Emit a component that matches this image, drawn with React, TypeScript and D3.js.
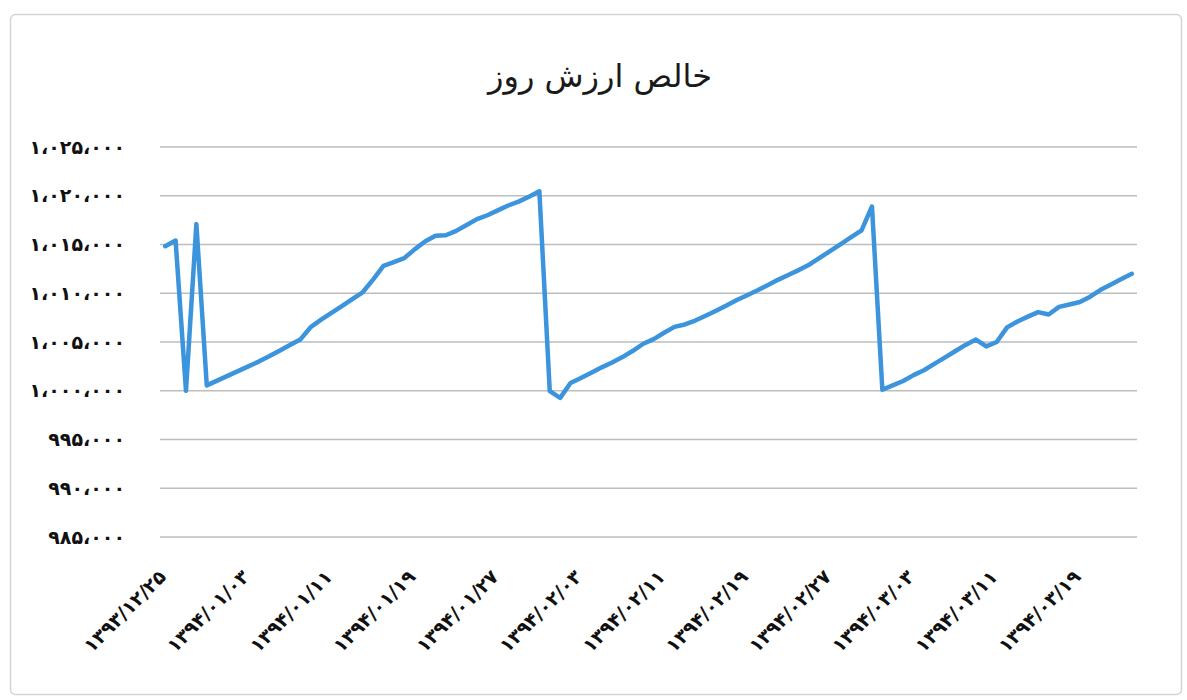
import React, { useEffect, useRef } from 'react';
import * as d3 from 'd3';

// chart text
const chartTitle = 'خالص ارزش روز';

// one value per day
const navValues = [
  1014830, 1015400, 1000000, 1017090, 1000550, 1001040, 1001530, 1002010, 1002500, 1002990,
  1003530, 1004110, 1004690, 1005260, 1006530, 1007290, 1007990, 1008690, 1009400, 1010100,
  1011400, 1012800, 1013200, 1013600, 1014500, 1015300, 1015900, 1015950, 1016400, 1017000,
  1017600, 1018000, 1018500, 1019000, 1019400, 1019900, 1020450, 999960, 999270, 1000790,
  1001300, 1001850, 1002400, 1002900, 1003450, 1004100, 1004820, 1005300, 1005950, 1006550,
  1006800, 1007200, 1007700, 1008200, 1008750, 1009300, 1009800, 1010300, 1010850, 1011400,
  1011900, 1012400, 1012950, 1013650, 1014350, 1015050, 1015750, 1016450, 1018900, 1000100,
  1000550, 1001000, 1001600, 1002100, 1002750, 1003400, 1004050, 1004700, 1005250, 1004550,
  1005000, 1006500, 1007100, 1007600, 1008070, 1007820, 1008600, 1008850, 1009100, 1009650,
  1010350, 1010900, 1011450, 1012000
];

// labels shown every 8th day
const xTickLabels = [
  '۱۳۹۳/۱۲/۲۵', '۱۳۹۴/۰۱/۰۳', '۱۳۹۴/۰۱/۱۱', '۱۳۹۴/۰۱/۱۹', '۱۳۹۴/۰۱/۲۷', '۱۳۹۴/۰۲/۰۳',
  '۱۳۹۴/۰۲/۱۱', '۱۳۹۴/۰۲/۱۹', '۱۳۹۴/۰۲/۲۷', '۱۳۹۴/۰۳/۰۳', '۱۳۹۴/۰۳/۱۱', '۱۳۹۴/۰۳/۱۹'
];
const labelStep = 8;

const yTicks = [985000, 990000, 995000, 1000000, 1005000, 1010000, 1015000, 1020000, 1025000];

const persianDigits = '۰۱۲۳۴۵۶۷۸۹';
const toPersian = (s: string) =>
  s.replace(/[0-9]/g, (d) => persianDigits[+d]).replace(/,/g, '،');

const W = 1187;
const H = 700;

export default function App() {
  const ref = useRef<SVGSVGElement>(null);

  useEffect(() => {
    const svg = d3.select(ref.current);
    svg.selectAll('*').remove();

    const left = 160, right = 1137, top = 147, bottom = 537;

    const x = d3.scaleBand<number>()
      .domain(navValues.map((d, i) => i))
      .range([left, right]);
    const cx = (i: number) => (x(i) as number) + x.bandwidth() / 2;

    const y = d3.scaleLinear()
      .domain([985000, 1025000])
      .range([bottom, top]);

    svg.append('rect')
      .attr('x', 0).attr('y', 0).attr('width', W).attr('height', H)
      .attr('fill', '#fff');

    svg.append('rect')
      .attr('x', 10.5).attr('y', 14.5)
      .attr('width', 1171).attr('height', 680)
      .attr('rx', 5)
      .attr('fill', '#fff')
      .attr('stroke', '#d4d4d4')
      .attr('stroke-width', 1.5);

    svg.append('text')
      .attr('x', 600).attr('y', 87)
      .attr('text-anchor', 'middle')
      .attr('font-family', 'DejaVu Sans')
      .attr('font-size', 32)
      .attr('fill', '#1a1a1a')
      .text(chartTitle);

    const fmt = d3.format(',');

    // grid lines
    svg.append('g')
      .selectAll('line')
      .data(yTicks)
      .enter()
      .append('line')
        .attr('x1', left).attr('x2', right)
        .attr('y1', (d) => y(d)).attr('y2', (d) => y(d))
        .attr('stroke', '#bdbdbd')
        .attr('stroke-width', 1.5);

    // y labels
    svg.append('g')
      .selectAll('text')
      .data(yTicks)
      .enter()
      .append('text')
        .attr('x', 125)
        .attr('y', (d) => y(d))
        .attr('dy', '0.35em')
        .attr('text-anchor', 'end')
        .attr('font-family', 'DejaVu Sans')
        .attr('font-weight', 'bold')
        .attr('font-size', 19)
        .attr('fill', '#111')
        .text((d) => toPersian(fmt(d)));

    // x labels
    svg.append('g')
      .selectAll('text')
      .data(xTickLabels)
      .enter()
      .append('text')
        .attr('transform', (d, k) => `translate(${cx(k * labelStep) + 2}, 578) rotate(-45)`)
        .attr('text-anchor', 'end')
        .attr('font-family', 'DejaVu Sans')
        .attr('font-weight', 'bold')
        .attr('font-size', 19)
        .attr('fill', '#111')
        .text((d) => d);

    const line = d3.line<number>()
      .x((d, i) => cx(i))
      .y((d) => y(d));

    svg.append('path')
      .datum(navValues)
      .attr('d', line)
      .attr('fill', 'none')
      .attr('stroke', '#3b94dc')
      .attr('stroke-width', 4.5)
      .attr('stroke-linejoin', 'round')
      .attr('stroke-linecap', 'round');
  }, []);

  return (
    <svg ref={ref} width={W} height={H}
      style={{ position: 'absolute', left: 0, top: 0, display: 'block' }} />
  );
}
